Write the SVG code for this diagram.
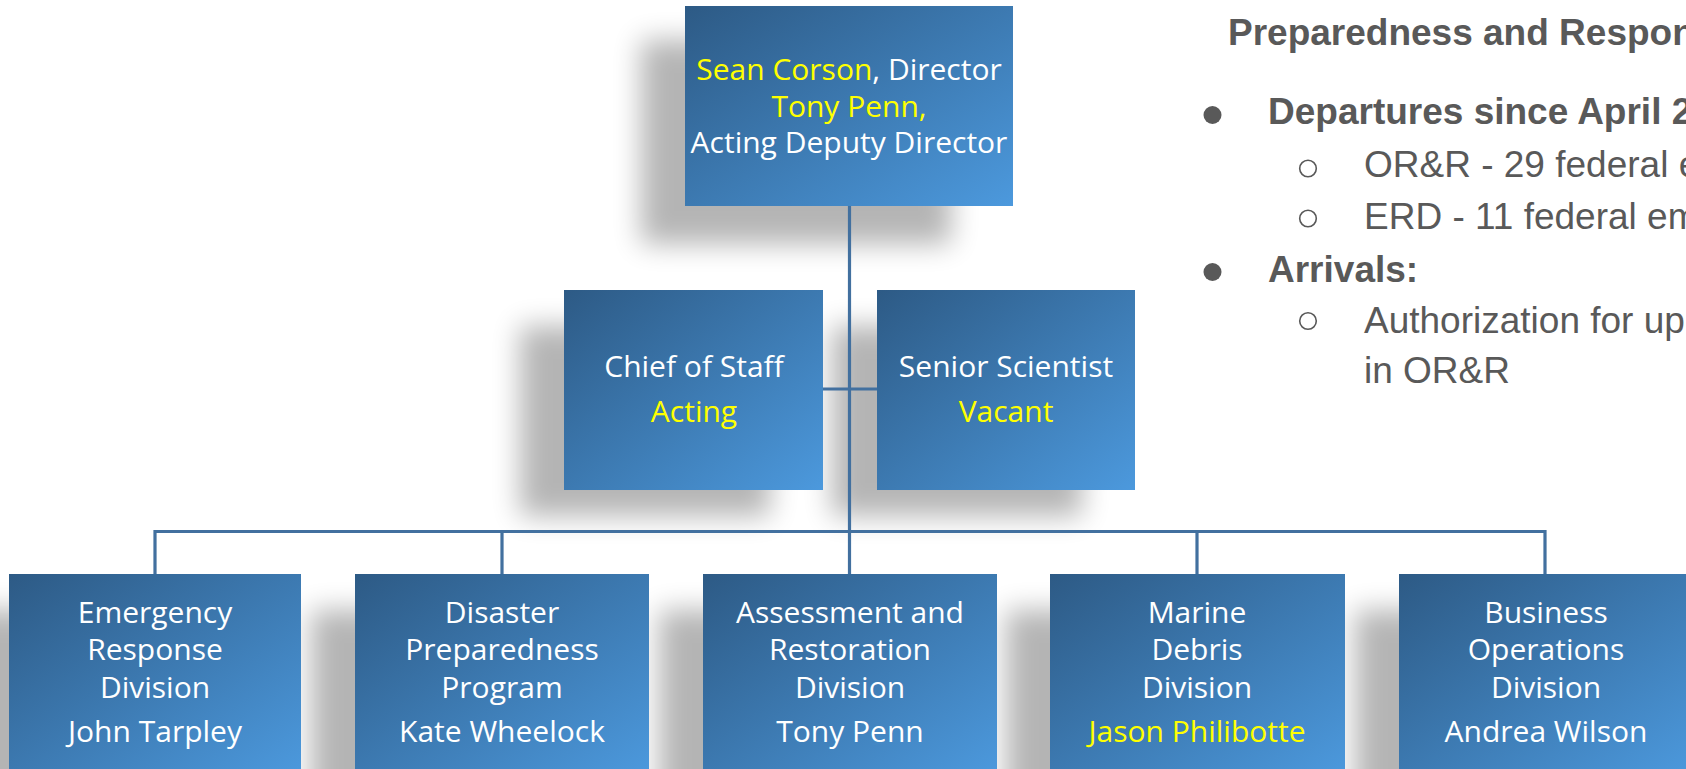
<svg xmlns="http://www.w3.org/2000/svg" width="1686" height="769" viewBox="0 0 1686 769">
<defs>
  <linearGradient id="boxGrad" x1="0" y1="0" x2="1" y2="1">
    <stop offset="0" stop-color="#2D5A85"/>
    <stop offset="1" stop-color="#4C99DD"/>
  </linearGradient>
  <filter id="blur" x="-40%" y="-40%" width="180%" height="180%">
    <feGaussianBlur stdDeviation="14"/>
  </filter>
  <style>
    .box { fill: url(#boxGrad); }
    .shadow { fill: #000; opacity: 0.29; filter: url(#blur); }
    .conn { stroke: #42709F; stroke-width: 3.2; fill: none; }
    .t { font-family: "Open Sans", "Noto Sans", sans-serif; font-size: 30px; text-anchor: middle; fill: #FFFFFF; }
    .y { fill: #FFFF00; }
    .side { font-family: "Liberation Sans", Arial, sans-serif; font-size: 37px; fill: #595959; }
    .b { font-weight: bold; }
    .dot { fill: #595959; }
    .ring { fill: none; stroke: #595959; stroke-width: 1.6; }
  </style>
</defs>
<rect width="1686" height="769" fill="#FFFFFF"/>

<g id="shadows">
  <rect class="shadow" x="641" y="40" width="310" height="204"/>
  <rect class="shadow" x="520" y="326" width="250" height="190"/>
  <rect class="shadow" x="832" y="326" width="250" height="190"/>
  <rect class="shadow" x="-35" y="610" width="284" height="210"/>
  <rect class="shadow" x="311" y="610" width="284" height="210"/>
  <rect class="shadow" x="659" y="610" width="284" height="210"/>
  <rect class="shadow" x="1006" y="610" width="284" height="210"/>
  <rect class="shadow" x="1355" y="610" width="284" height="210"/>
</g>

<g id="connectors">
  <line class="conn" x1="849.5" y1="205" x2="849.5" y2="574"/>
  <line class="conn" x1="822" y1="389" x2="877" y2="389"/>
  <polyline class="conn" points="155,574 155,531.5 1545,531.5 1545,574"/>
  <line class="conn" x1="502" y1="531.5" x2="502" y2="574"/>
  <line class="conn" x1="1197" y1="531.5" x2="1197" y2="574"/>
</g>

<g id="director">
  <rect class="box" x="685" y="6" width="328" height="200"/>
  <text class="t" x="849" y="80"><tspan class="y">Sean Corson</tspan>, Director</text>
  <text class="t y" x="849" y="117">Tony Penn,</text>
  <text class="t" x="849" y="153">Acting Deputy Director</text>
</g>

<g id="chief-of-staff">
  <rect class="box" x="564" y="290" width="259" height="200"/>
  <text class="t" x="694" y="377">Chief of Staff</text>
  <text class="t y" x="694" y="422">Acting</text>
</g>

<g id="senior-scientist">
  <rect class="box" x="877" y="290" width="258" height="200"/>
  <text class="t" x="1006" y="377">Senior Scientist</text>
  <text class="t y" x="1006" y="422">Vacant</text>
</g>

<g id="erd">
  <rect class="box" x="9" y="574" width="292" height="200"/>
  <text class="t" x="155" y="623">Emergency</text>
  <text class="t" x="155" y="660">Response</text>
  <text class="t" x="155" y="698">Division</text>
  <text class="t" x="155" y="742">John Tarpley</text>
</g>

<g id="dpp">
  <rect class="box" x="355" y="574" width="294" height="200"/>
  <text class="t" x="502" y="623">Disaster</text>
  <text class="t" x="502" y="660">Preparedness</text>
  <text class="t" x="502" y="698">Program</text>
  <text class="t" x="502" y="742">Kate Wheelock</text>
</g>

<g id="ard">
  <rect class="box" x="703" y="574" width="294" height="200"/>
  <text class="t" x="850" y="623">Assessment and</text>
  <text class="t" x="850" y="660">Restoration</text>
  <text class="t" x="850" y="698">Division</text>
  <text class="t" x="850" y="742">Tony Penn</text>
</g>

<g id="mdd">
  <rect class="box" x="1050" y="574" width="295" height="200"/>
  <text class="t" x="1197" y="623">Marine</text>
  <text class="t" x="1197" y="660">Debris</text>
  <text class="t" x="1197" y="698">Division</text>
  <text class="t y" x="1197" y="742">Jason Philibotte</text>
</g>

<g id="bod">
  <rect class="box" x="1399" y="574" width="294" height="200"/>
  <text class="t" x="1546" y="623">Business</text>
  <text class="t" x="1546" y="660">Operations</text>
  <text class="t" x="1546" y="698">Division</text>
  <text class="t" x="1546" y="742">Andrea Wilson</text>
</g>

<g id="side-text">
  <text class="side b" x="1228" y="45">Preparedness and Respon</text>
  <circle class="dot" cx="1212.5" cy="115" r="9"/>
  <text class="side b" x="1268" y="124">Departures since April 2</text>
  <circle class="ring" cx="1308" cy="168.5" r="8.3"/>
  <text class="side" x="1364" y="177">OR&amp;R - 29 federal e</text>
  <circle class="ring" cx="1308" cy="218.5" r="8.3"/>
  <text class="side" x="1364" y="229">ERD - 11 federal em</text>
  <circle class="dot" cx="1212.5" cy="272" r="9"/>
  <text class="side b" x="1268" y="282">Arrivals:</text>
  <circle class="ring" cx="1308" cy="321" r="8.3"/>
  <text class="side" x="1364" y="333">Authorization for up</text>
  <text class="side" x="1364" y="383">in OR&amp;R</text>
</g>
</svg>
